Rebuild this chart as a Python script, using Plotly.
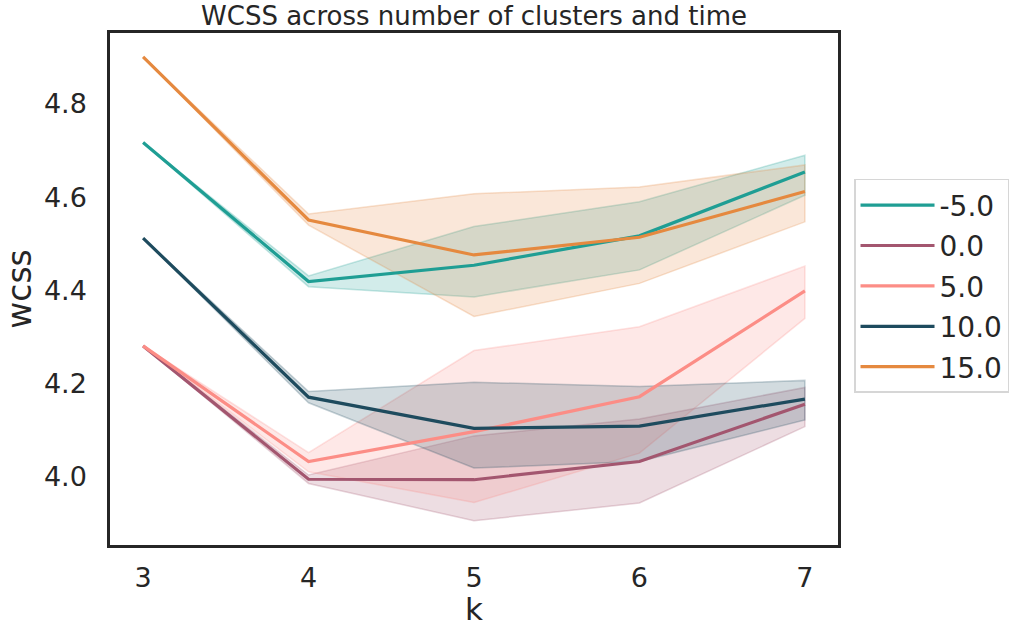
import plotly.graph_objects as go

k = [3, 4, 5, 6, 7]
temps = ["-5.0", "0.0", "5.0", "10.0", "15.0"]
colores = ["#1f9e94", "#a3566f", "#fc8d86", "#1e4b5e", "#e5893f"]

# mean wcss per temperature
wcss_m5 = [4.717, 4.419, 4.454, 4.517, 4.654]
wcss_0 = [4.281, 3.995, 3.994, 4.033, 4.156]
wcss_5 = [4.281, 4.033, 4.097, 4.172, 4.399]
wcss_10 = [4.512, 4.171, 4.104, 4.109, 4.167]
wcss_15 = [4.901, 4.551, 4.476, 4.514, 4.612]

# confidence bands (lower / upper)
low_m5 = [4.717, 4.408, 4.386, 4.444, 4.604]
up_m5 = [4.717, 4.431, 4.537, 4.590, 4.690]
low_0 = [4.281, 3.986, 3.906, 3.944, 4.108]
up_0 = [4.281, 4.004, 4.088, 4.124, 4.192]
low_5 = [4.281, 4.011, 3.945, 4.051, 4.340]
up_5 = [4.281, 4.052, 4.271, 4.322, 4.452]
low_10 = [4.512, 4.159, 4.019, 4.033, 4.122]
up_10 = [4.512, 4.183, 4.203, 4.194, 4.207]
low_15 = [4.901, 4.540, 4.344, 4.415, 4.547]
up_15 = [4.901, 4.564, 4.607, 4.622, 4.669]

medias = [wcss_m5, wcss_0, wcss_5, wcss_10, wcss_15]
bajos = [low_m5, low_0, low_5, low_10, low_15]
altos = [up_m5, up_0, up_5, up_10, up_15]


def rgba(hexcol, a):
    h = hexcol.lstrip("#")
    r, g, b = int(h[0:2], 16), int(h[2:4], 16), int(h[4:6], 16)
    return f"rgba({r},{g},{b},{a})"


fig = go.Figure()

for t, c, lo, hi in zip(temps, colores, bajos, altos):
    fig.add_trace(go.Scatter(x=k + k[::-1], y=hi + lo[::-1], fill="toself",
                             fillcolor=rgba(c, 0.2), line=dict(color=rgba(c, 0.25), width=1.5),
                             mode="lines", showlegend=False, hoverinfo="skip", legendgroup=t))

for t, c, m in zip(temps, colores, medias):
    fig.add_trace(go.Scatter(x=k, y=m, mode="lines", name=t, legendgroup=t,
                             line=dict(color=c, width=3.2)))

fig.update_layout(
    width=1021, height=627,
    margin=dict(l=110, r=176, t=33, b=82),
    paper_bgcolor="white", plot_bgcolor="white",
    font=dict(family="DejaVu Sans", color="#262626", size=27),
    title=dict(text="WCSS across number of clusters and time", x=0.5, xref="paper",
               y=0.974, yanchor="middle", font=dict(size=26, color="#262626")),
    legend=dict(x=1.022, y=0.715, xanchor="left", yanchor="top", bordercolor="#d6d6d6",
                borderwidth=1.5, font=dict(size=28), tracegroupgap=1, itemwidth=74),
)
fig.update_xaxes(range=[2.8, 7.2], tickvals=k, showgrid=False, zeroline=False,
                 showline=True, mirror=True, linecolor="#262626", linewidth=2.5,
                 ticks="outside", ticklen=7, tickcolor="rgba(0,0,0,0)", automargin=False,
                 title=dict(text="k", font=dict(size=31), standoff=10))
fig.update_yaxes(range=[3.854, 4.952], tickvals=[4.0, 4.2, 4.4, 4.6, 4.8], tickformat=".1f",
                 showgrid=False, zeroline=False, automargin=False,
                 showline=True, mirror=True, linecolor="#262626", linewidth=2.5,
                 ticks="outside", ticklen=15, tickcolor="rgba(0,0,0,0)",
                 title=dict(text="wcss", font=dict(size=33), standoff=4))

# no body margin, so the figure fills the window exactly
fig.write_html("out.html", config={"displayModeBar": False},
               post_script="document.body.style.margin='0';")
